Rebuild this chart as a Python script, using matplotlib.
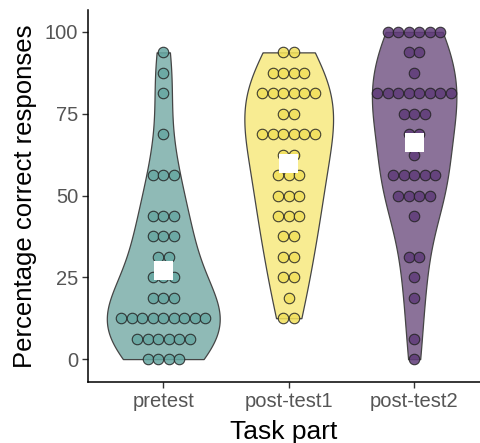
import numpy as np
import matplotlib
matplotlib.use("Agg")
import matplotlib.pyplot as plt

# ---- data ----
categories = ["pretest", "post-test1", "post-test2"]
score_levels = [0, 6.25, 12.5, 18.75, 25, 31.25, 37.5, 43.75, 50,
                56.25, 62.5, 68.75, 75, 81.25, 87.5, 93.75, 100]
pretest_counts = [4, 6, 9, 3, 3, 2, 3, 3, 0, 3, 0, 1, 0, 1, 1, 1, 0]
post1_counts = [0, 0, 2, 1, 2, 2, 2, 3, 3, 3, 2, 6, 2, 6, 4, 2, 0]
post2_counts = [1, 1, 0, 1, 1, 2, 0, 1, 4, 5, 1, 2, 3, 8, 1, 2, 6]
y_ticks = [0, 25, 50, 75, 100]

# ---- style ----
fill_colors = ["#8fbab6", "#f8ec92", "#8b7299"]
dot_colors = ["#66a6a1", "#f2e05a", "#5f3b79"]
outline = "#454545"
bw_adjust = 1.3
plt.rcParams['font.family'] = ['Liberation Sans', 'DejaVu Sans']

groups = [pretest_counts, post1_counts, post2_counts]
samples = [np.repeat(score_levels, c).astype(float) for c in groups]


def bw_nrd0(x):
    sd = np.std(x, ddof=1)
    q75, q25 = np.percentile(x, [75, 25])
    lo = min(sd, (q75 - q25) / 1.34)
    if lo <= 0:
        lo = sd
    return 0.9 * lo * len(x) ** (-0.2)


def kde(x, grid, bw):
    z = (grid[:, None] - x[None, :]) / bw
    return np.exp(-0.5 * z ** 2).sum(axis=1) / (len(x) * bw * np.sqrt(2 * np.pi))


W, H, DPI = 480, 443, 100
fig = plt.figure(figsize=(W / DPI, H / DPI), dpi=DPI)
ax = fig.add_axes([88 / W, 61 / H, 392 / W, 372 / H])
xlim = (0.4, 3.525)
ylim = (-7.0, 106.7)
ax.set_xlim(*xlim)
ax.set_ylim(*ylim)

# violins (scale = "area": common max density -> width 0.9)
grids, dens = [], []
for x in samples:
    g = np.linspace(x.min(), x.max(), 512)
    grids.append(g)
    dens.append(kde(x, g, bw_nrd0(x) * bw_adjust))
dmax = max(d.max() for d in dens)
for i, (g, d) in enumerate(zip(grids, dens)):
    pos = i + 1
    hw = d / dmax * 0.45
    ax.fill_betweenx(g, pos - hw, pos + hw, facecolor=fill_colors[i],
                     edgecolor=outline, linewidth=0.9, zorder=2)

# dotplot (centered stacks)
dot_px = 10.5
px_per_x = 392 / (xlim[1] - xlim[0])
dx = dot_px / px_per_x
s_dot = (dot_px * 72 / DPI) ** 2
for i, counts in enumerate(groups):
    pos = i + 1
    xs, ys = [], []
    for lvl, c in zip(score_levels, counts):
        for k in range(c):
            xs.append(pos + (k - (c - 1) / 2) * dx)
            ys.append(lvl)
    ax.scatter(xs, ys, s=s_dot, facecolor=dot_colors[i], edgecolor="#222222",
               linewidth=0.8, alpha=0.85, zorder=3)

# means
means = [x.mean() for x in samples]
sq_px = 19
ax.scatter([1, 2, 3], means, marker="s", s=(sq_px * 72 / DPI) ** 2,
           facecolor="white", edgecolor="none", zorder=4)

ax.set_xticks([1, 2, 3])
ax.set_xticklabels(categories)
ax.set_yticks(y_ticks)
for sp in ["top", "right"]:
    ax.spines[sp].set_visible(False)
for sp in ["left", "bottom"]:
    ax.spines[sp].set_linewidth(1.1)
    ax.spines[sp].set_color("black")
ax.tick_params(axis="both", length=4, width=1.0, color="#333333",
               labelsize=14.5, labelcolor="#555555", pad=3)
ax.set_xlabel("Task part", fontsize=19, color="black", labelpad=7)
ax.set_ylabel("Percentage correct responses", fontsize=18.5, color="black", labelpad=6)

fig.savefig("out.png", dpi=DPI)
